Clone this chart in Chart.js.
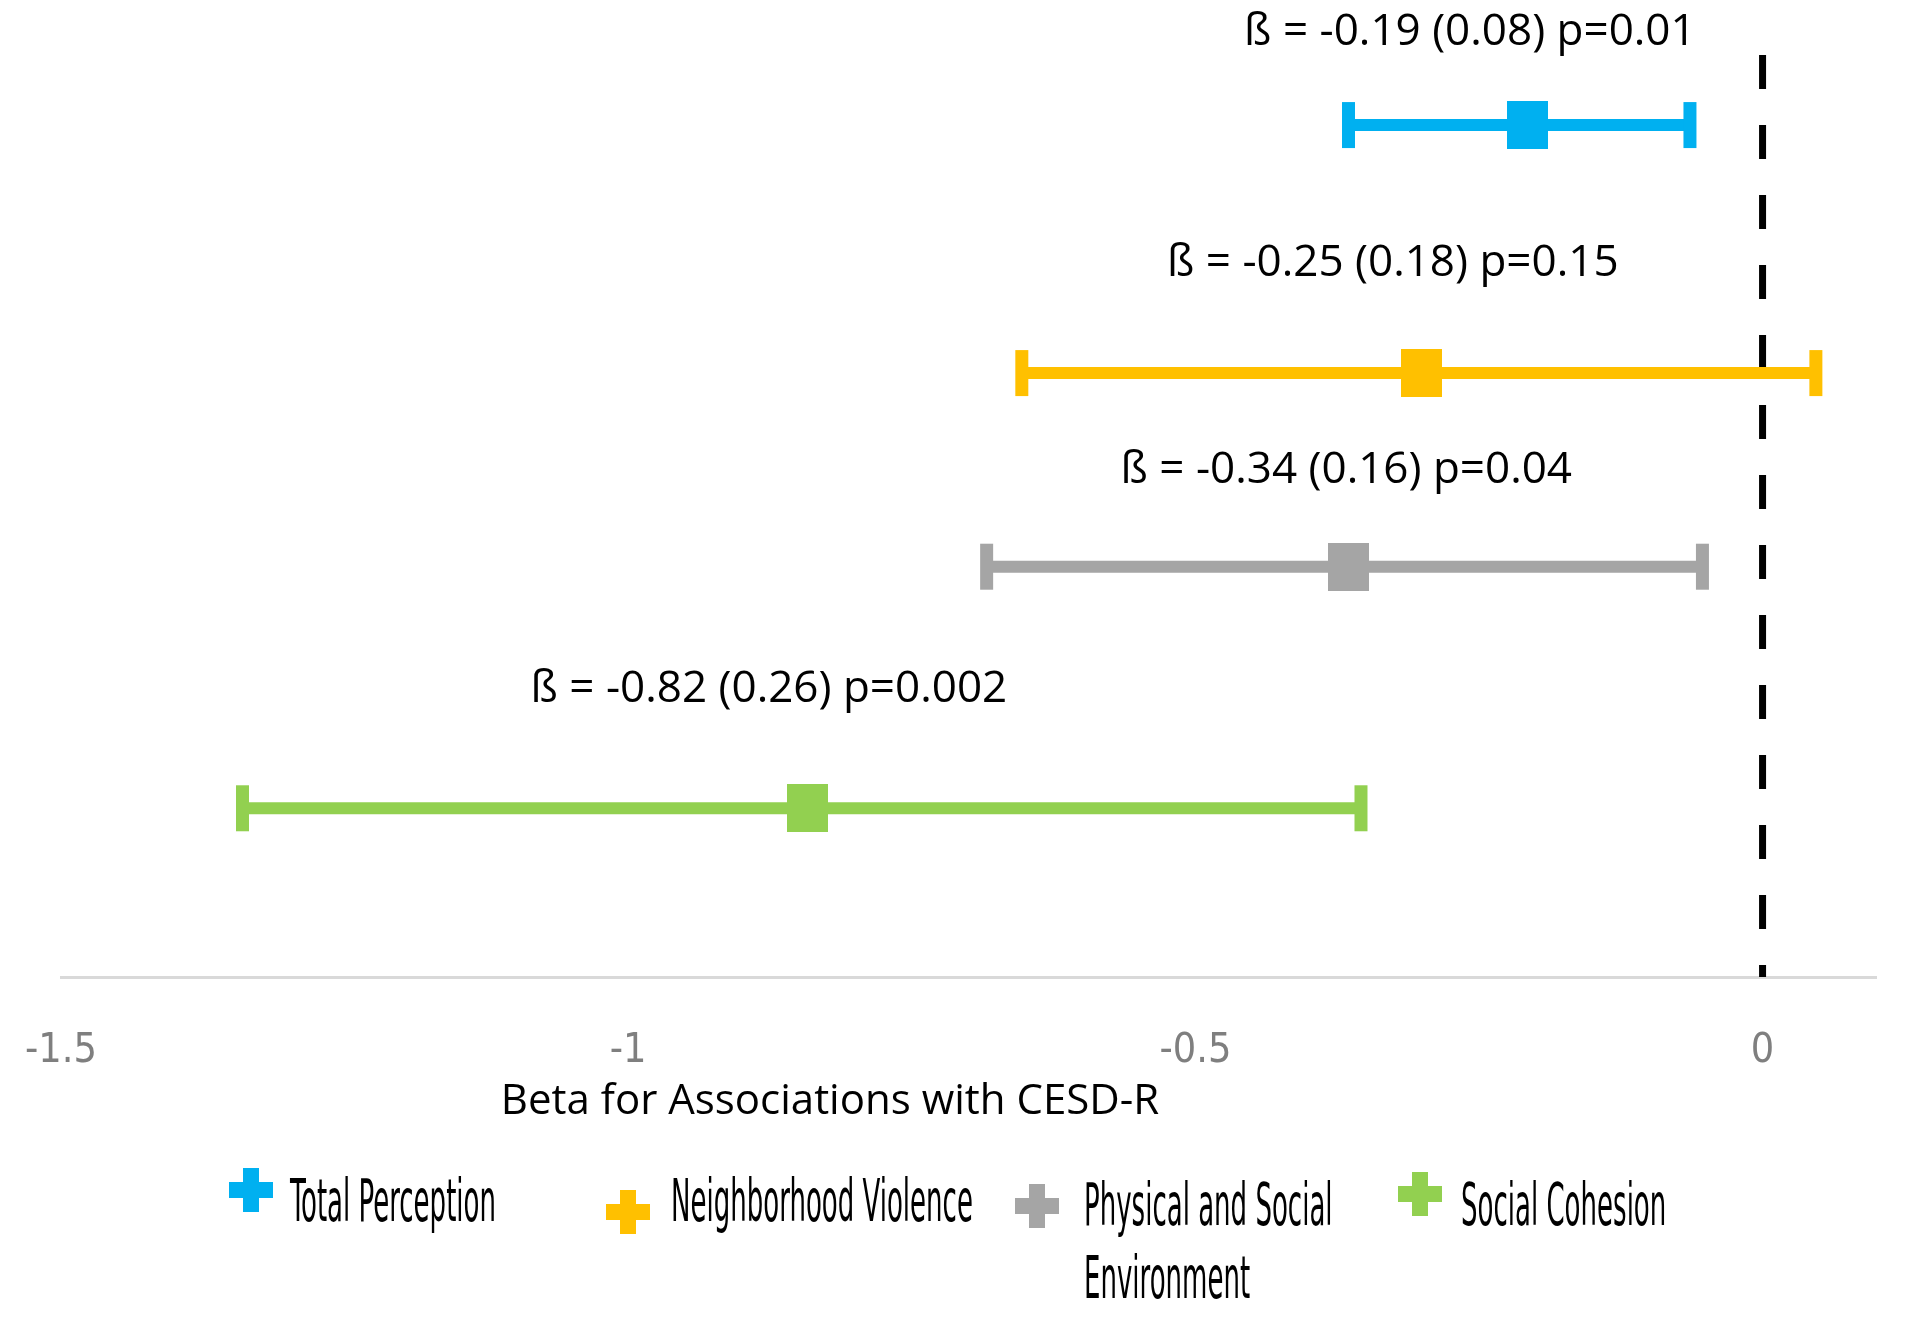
<!DOCTYPE html>
<html><head><meta charset="utf-8">
<script src="https://cdn.jsdelivr.net/npm/chart.js@4"></script>
<style>html,body{margin:0;padding:0;background:#fff}#wrap{width:1920px;height:1323px;position:relative}</style>
</head><body><div id="wrap"><canvas id="c"></canvas></div>
<script>
// ---- data ----
const categories = ['Total Perception', 'Neighborhood Violence', 'Physical and Social Environment', 'Social Cohesion'];
const betaPoint = [-0.207, -0.301, -0.365, -0.842];
const ciLower   = [-0.365, -0.653, -0.684, -1.340];
const ciUpper   = [-0.064,  0.047, -0.053, -0.354];
const rowLevel  = [9.24, 6.55, 4.45, 1.83];
const statLabels = ['ß = -0.19 (0.08) p=0.01', 'ß = -0.25 (0.18) p=0.15', 'ß = -0.34 (0.16) p=0.04', 'ß = -0.82 (0.26) p=0.002'];
const legendLines = [['Total Perception'], ['Neighborhood Violence'], ['Physical and Social', 'Environment'], ['Social Cohesion']];
const xTicks = [-1.5, -1, -0.5, 0];
const refLineX = [0, 0];
const refLineY = [10, 0];
const xTitle = 'Beta for Associations with CESD-R';

// ---- styles ----
const seriesColors = ['#00B0F0', '#FFC000', '#A5A5A5', '#92D050'];
const narrow = '"Liberation Sans Narrow", "DejaVu Sans Condensed", "Roboto Condensed", "Liberation Sans", sans-serif';
const textFont = '"Open Sans", "Noto Sans", sans-serif';

function squareMarker(color, w, h) {
  const cv = document.createElement('canvas');
  cv.width = w; cv.height = h;
  const g = cv.getContext('2d');
  g.fillStyle = color; g.fillRect(0, 0, w, h);
  return cv;
}

const datasets = [];
categories.forEach((name, i) => {
  datasets.push({
    label: name + ' point',
    data: [{x: betaPoint[i], y: rowLevel[i]}],
    pointStyle: squareMarker(seriesColors[i], 41, 48),
    showLine: false,
    order: 0
  });
  datasets.push({
    label: name,
    data: [{x: ciLower[i], y: rowLevel[i]}, {x: ciUpper[i], y: rowLevel[i]}],
    showLine: true,
    borderColor: seriesColors[i],
    borderWidth: 12,
    pointStyle: 'line',
    pointRotation: 90,
    pointRadius: 23,
    pointBorderWidth: 13,
    pointBorderColor: seriesColors[i],
    pointBackgroundColor: seriesColors[i],
    order: 1
  });
});
datasets.push({
  label: 'ref',
  data: refLineX.map((x, k) => ({x, y: refLineY[k]})),
  showLine: true,
  borderColor: '#000',
  borderWidth: 7,
  borderDash: [34, 36],
  pointRadius: 0,
  order: 3
});

const overlayPlugin = {
  id: 'overlay',
  afterDraw(chart, args, opts) {
    const ctx = chart.ctx;
    const xs = chart.scales.x, ys = chart.scales.y;
    ctx.save();
    // stat labels
    ctx.fillStyle = '#000';
    ctx.font = '44px ' + textFont;
    ctx.textAlign = 'center';
    ctx.textBaseline = 'middle';
    statLabels.forEach((t, i) => {
      const a = opts.anchors[i];
      ctx.fillText(t, xs.getPixelForValue(a.x), ys.getPixelForValue(a.y));
    });
    // axis title
    ctx.font = '42px ' + textFont;
    ctx.fillText(xTitle, opts.titlePos.x, opts.titlePos.y);
    // legend
    ctx.font = '35px ' + narrow;
    ctx.textAlign = 'left';
    const sx = 206 / ctx.measureText('Total Perception').width;
    const sy = 1.7;
    legendLines.forEach((lines, i) => {
      const L = opts.legend[i];
      ctx.fillStyle = seriesColors[i];
      const s = 44, t = 16;
      ctx.fillRect(L.mx - t / 2, L.my - s / 2, t, s);
      ctx.fillRect(L.mx - s / 2, L.my - t / 2, s, t);
      ctx.fillStyle = '#000';
      lines.forEach((ln, k) => {
        ctx.save();
        ctx.translate(L.tx, L.ty + k * 73);
        ctx.scale(sx, sy);
        ctx.fillText(ln, 0, 0);
        ctx.restore();
      });
    });
    ctx.restore();
  }
};

new Chart(document.getElementById('c'), {
  type: 'scatter',
  data: {datasets},
  plugins: [overlayPlugin],
  options: {
    responsive: true,
    maintainAspectRatio: false,
    animation: false,
    devicePixelRatio: 1,
    layout: {padding: {left: 61, right: 44, top: 55, bottom: 0}},
    plugins: {
      legend: {display: false},
      tooltip: {enabled: false},
      overlay: {
        anchors: [{x: -0.258, y: 10.24}, {x: -0.326, y: 7.74}, {x: -0.367, y: 5.49}, {x: -0.876, y: 3.12}],
        titlePos: {x: 830, y: 1102},
        legend: [
          {mx: 251, my: 1190, tx: 290, ty: 1206},
          {mx: 628, my: 1212, tx: 671, ty: 1206},
          {mx: 1037, my: 1206, tx: 1084, ty: 1210},
          {mx: 1420, my: 1194, tx: 1461, ty: 1210}
        ]
      }
    },
    scales: {
      x: {
        type: 'linear',
        min: -1.5, max: 0.1,
        afterBuildTicks(scale) { scale.ticks = xTicks.map(v => ({value: v})); },
        afterFit(scale) { scale.height = 346; scale.paddingLeft = 0; scale.paddingRight = 0; },
        grid: {display: true, drawOnChartArea: false, drawTicks: false},
        border: {display: true, color: '#D9D9D9', width: 3},
        ticks: {
          padding: 50,
          color: '#7F7F7F',
          font: {family: narrow, size: 41},
          maxRotation: 0,
          autoSkip: false,
          callback: v => String(v)
        }
      },
      y: {
        type: 'linear',
        min: 0, max: 10,
        display: false
      }
    }
  }
});
</script>
</body></html>
